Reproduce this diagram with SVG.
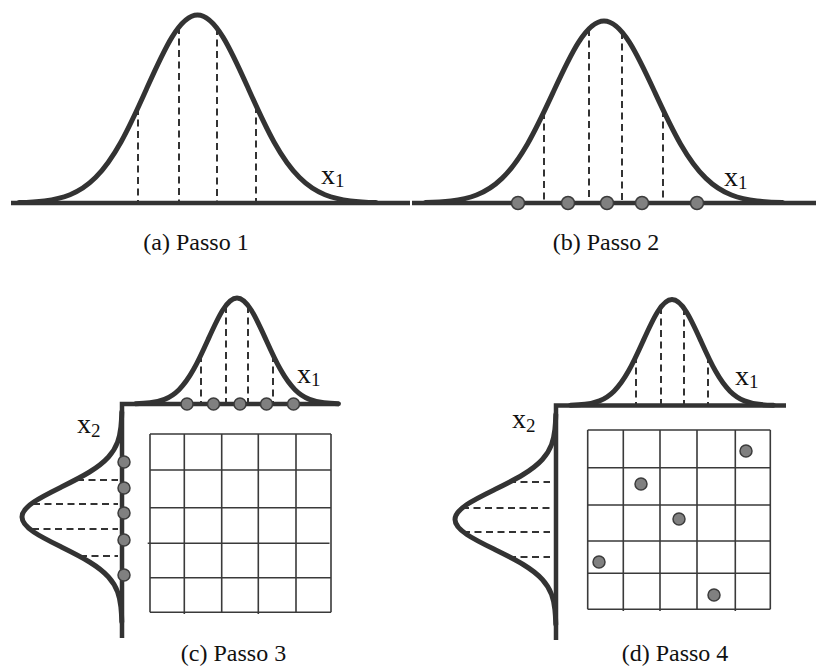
<svg xmlns="http://www.w3.org/2000/svg" width="816" height="668" viewBox="0 0 816 668">
<style>
.curve{fill:none;stroke:#333;stroke-width:5;vector-effect:non-scaling-stroke;stroke-linecap:round;stroke-linejoin:round}
.axis{fill:none;stroke:#333;stroke-width:4.5}
.dash{fill:none;stroke:#333;stroke-width:2;stroke-dasharray:7 4.5}
.grid{fill:none;stroke:#3a3a3a;stroke-width:1.6}
.pt{fill:#808080;stroke:#3c3c3c;stroke-width:1.5}
.cap{font-family:"Liberation Serif","Times New Roman",serif;font-size:24px;fill:#111;text-anchor:middle}
.lbl{font-family:"Liberation Serif","Times New Roman",serif;font-size:28px;fill:#111}
.sub{font-size:19px}
</style>

<g id="panel-a">
<line class="axis" x1="11" y1="203" x2="410" y2="203"/>
<path class="curve" transform="translate(197.5,203) scale(51,-188)" d="M-3.5,0.002187 C-3.3333,0.003463 -3.1667,0.005554 -3,0.011109 C-2.8333,0.016664 -2.6667,0.02563 -2.5,0.043937 C-2.3333,0.062244 -2.1667,0.090223 -2,0.135335 C-1.8333,0.180447 -1.6667,0.243489 -1.5,0.324652 C-1.3333,0.405815 -1.1667,0.505442 -1,0.606531 C-0.8333,0.70762 -0.6667,0.808956 -0.5,0.882497 C-0.3333,0.956038 -0.1667,1 0,1 C0.1667,1 0.3333,0.956038 0.5,0.882497 C0.6667,0.808956 0.8333,0.70762 1,0.606531 C1.1667,0.505442 1.3333,0.405815 1.5,0.324652 C1.6667,0.243489 1.8333,0.180447 2,0.135335 C2.1667,0.090223 2.3333,0.062244 2.5,0.043937 C2.6667,0.02563 2.8333,0.016664 3,0.011109 C3.1667,0.005554 3.3333,0.003463 3.5,0.002187"/>
<line class="dash" x1="138" y1="108" x2="138" y2="203"/>
<line class="dash" x1="179" y1="27" x2="179" y2="203"/>
<line class="dash" x1="217" y1="28" x2="217" y2="203"/>
<line class="dash" x1="256" y1="106" x2="256" y2="203"/>
<text class="lbl" x="321" y="184">x<tspan class="sub" dy="3">1</tspan></text>
<text class="cap" x="196" y="250">(a) Passo 1</text>
</g>

<g id="panel-b">
<line class="axis" x1="412" y1="203" x2="816" y2="203"/>
<path class="curve" transform="translate(604,203) scale(51,-182)" d="M-3.5,0.002187 C-3.3333,0.003463 -3.1667,0.005554 -3,0.011109 C-2.8333,0.016664 -2.6667,0.02563 -2.5,0.043937 C-2.3333,0.062244 -2.1667,0.090223 -2,0.135335 C-1.8333,0.180447 -1.6667,0.243489 -1.5,0.324652 C-1.3333,0.405815 -1.1667,0.505442 -1,0.606531 C-0.8333,0.70762 -0.6667,0.808956 -0.5,0.882497 C-0.3333,0.956038 -0.1667,1 0,1 C0.1667,1 0.3333,0.956038 0.5,0.882497 C0.6667,0.808956 0.8333,0.70762 1,0.606531 C1.1667,0.505442 1.3333,0.405815 1.5,0.324652 C1.6667,0.243489 1.8333,0.180447 2,0.135335 C2.1667,0.090223 2.3333,0.062244 2.5,0.043937 C2.6667,0.02563 2.8333,0.016664 3,0.011109 C3.1667,0.005554 3.3333,0.003463 3.5,0.002187"/>
<line class="dash" x1="544" y1="112" x2="544" y2="203"/>
<line class="dash" x1="589" y1="29" x2="589" y2="203"/>
<line class="dash" x1="622" y1="32" x2="622" y2="203"/>
<line class="dash" x1="663" y1="110" x2="663" y2="203"/>
<circle class="pt" cx="518" cy="203" r="6.5"/>
<circle class="pt" cx="568" cy="203" r="6.5"/>
<circle class="pt" cx="607" cy="203" r="6.5"/>
<circle class="pt" cx="642" cy="203" r="6.5"/>
<circle class="pt" cx="697" cy="203" r="6.5"/>
<text class="lbl" x="724" y="186">x<tspan class="sub" dy="3">1</tspan></text>
<text class="cap" x="606" y="250">(b) Passo 2</text>
</g>

<g id="panel-c">
<path class="grid" d="M150,434 V612.3 M184.3,434 V614 M221.7,434 V612.3 M258.3,434 V614 M296,434 V612.3 M331,434 V612.3 M150,434 H331 M150,470 H331 M150,507.7 H331 M147.7,543.3 H329.5 M150,577.7 H331 M150,612.3 H331"/>
<path class="axis" d="M339,404 H122 V638"/>
<path class="curve" transform="translate(237,404) scale(29,-106)" d="M-3.5,0.002187 C-3.3333,0.003463 -3.1667,0.005554 -3,0.011109 C-2.8333,0.016664 -2.6667,0.02563 -2.5,0.043937 C-2.3333,0.062244 -2.1667,0.090223 -2,0.135335 C-1.8333,0.180447 -1.6667,0.243489 -1.5,0.324652 C-1.3333,0.405815 -1.1667,0.505442 -1,0.606531 C-0.8333,0.70762 -0.6667,0.808956 -0.5,0.882497 C-0.3333,0.956038 -0.1667,1 0,1 C0.1667,1 0.3333,0.956038 0.5,0.882497 C0.6667,0.808956 0.8333,0.70762 1,0.606531 C1.1667,0.505442 1.3333,0.405815 1.5,0.324652 C1.6667,0.243489 1.8333,0.180447 2,0.135335 C2.1667,0.090223 2.3333,0.062244 2.5,0.043937 C2.6667,0.02563 2.8333,0.016664 3,0.011109 C3.1667,0.005554 3.3333,0.003463 3.5,0.002187"/>
<path class="curve" transform="matrix(0,30,-100,0,122,517)" d="M-3.5,0.002187 C-3.3333,0.003463 -3.1667,0.005554 -3,0.011109 C-2.8333,0.016664 -2.6667,0.02563 -2.5,0.043937 C-2.3333,0.062244 -2.1667,0.090223 -2,0.135335 C-1.8333,0.180447 -1.6667,0.243489 -1.5,0.324652 C-1.3333,0.405815 -1.1667,0.505442 -1,0.606531 C-0.8333,0.70762 -0.6667,0.808956 -0.5,0.882497 C-0.3333,0.956038 -0.1667,1 0,1 C0.1667,1 0.3333,0.956038 0.5,0.882497 C0.6667,0.808956 0.8333,0.70762 1,0.606531 C1.1667,0.505442 1.3333,0.405815 1.5,0.324652 C1.6667,0.243489 1.8333,0.180447 2,0.135335 C2.1667,0.090223 2.3333,0.062244 2.5,0.043937 C2.6667,0.02563 2.8333,0.016664 3,0.011109 C3.1667,0.005554 3.3333,0.003463 3.5,0.002187"/>
<line class="dash" x1="201" y1="355" x2="201" y2="404"/>
<line class="dash" x1="226" y1="306" x2="226" y2="404"/>
<line class="dash" x1="248" y1="306" x2="248" y2="404"/>
<line class="dash" x1="273" y1="355" x2="273" y2="404"/>
<line class="dash" x1="77" y1="480" x2="118" y2="480"/>
<line class="dash" x1="33" y1="504" x2="118" y2="504"/>
<line class="dash" x1="32" y1="529" x2="118" y2="529"/>
<line class="dash" x1="80" y1="556" x2="118" y2="556"/>
<circle class="pt" cx="187" cy="404" r="6"/>
<circle class="pt" cx="213.5" cy="404" r="6"/>
<circle class="pt" cx="240" cy="404" r="6"/>
<circle class="pt" cx="266.5" cy="404" r="6"/>
<circle class="pt" cx="293.5" cy="404" r="6"/>
<circle class="pt" cx="124" cy="462" r="6"/>
<circle class="pt" cx="124" cy="488" r="6"/>
<circle class="pt" cx="124" cy="513" r="6"/>
<circle class="pt" cx="124" cy="540" r="6"/>
<circle class="pt" cx="124" cy="575" r="6"/>
<text class="lbl" x="297" y="383">x<tspan class="sub" dy="3">1</tspan></text>
<text class="lbl" x="77" y="433">x<tspan class="sub" dy="4">2</tspan></text>
<text class="cap" x="233.5" y="661">(c) Passo 3</text>
</g>

<g id="panel-d">
<path class="grid" d="M587.7,430 V609.3 M623.3,430 V611 M660,430 V611 M697,430 V609.3 M735.3,430 V611 M770.3,430 V609.3 M587.7,430 H770.3 M587.7,467.7 H770.3 M587.7,505 H770.3 M587.7,541 H770.3 M587.7,573.3 H770.3 M587.7,609.3 H770.3"/>
<path class="axis" d="M786,405.5 H556 V640"/>
<path class="curve" transform="translate(672,405.5) scale(29,-106)" d="M-3.5,0.002187 C-3.3333,0.003463 -3.1667,0.005554 -3,0.011109 C-2.8333,0.016664 -2.6667,0.02563 -2.5,0.043937 C-2.3333,0.062244 -2.1667,0.090223 -2,0.135335 C-1.8333,0.180447 -1.6667,0.243489 -1.5,0.324652 C-1.3333,0.405815 -1.1667,0.505442 -1,0.606531 C-0.8333,0.70762 -0.6667,0.808956 -0.5,0.882497 C-0.3333,0.956038 -0.1667,1 0,1 C0.1667,1 0.3333,0.956038 0.5,0.882497 C0.6667,0.808956 0.8333,0.70762 1,0.606531 C1.1667,0.505442 1.3333,0.405815 1.5,0.324652 C1.6667,0.243489 1.8333,0.180447 2,0.135335 C2.1667,0.090223 2.3333,0.062244 2.5,0.043937 C2.6667,0.02563 2.8333,0.016664 3,0.011109 C3.1667,0.005554 3.3333,0.003463 3.5,0.002187"/>
<path class="curve" transform="matrix(0,30,-101,0,556,519.5)" d="M-3.5,0.002187 C-3.3333,0.003463 -3.1667,0.005554 -3,0.011109 C-2.8333,0.016664 -2.6667,0.02563 -2.5,0.043937 C-2.3333,0.062244 -2.1667,0.090223 -2,0.135335 C-1.8333,0.180447 -1.6667,0.243489 -1.5,0.324652 C-1.3333,0.405815 -1.1667,0.505442 -1,0.606531 C-0.8333,0.70762 -0.6667,0.808956 -0.5,0.882497 C-0.3333,0.956038 -0.1667,1 0,1 C0.1667,1 0.3333,0.956038 0.5,0.882497 C0.6667,0.808956 0.8333,0.70762 1,0.606531 C1.1667,0.505442 1.3333,0.405815 1.5,0.324652 C1.6667,0.243489 1.8333,0.180447 2,0.135335 C2.1667,0.090223 2.3333,0.062244 2.5,0.043937 C2.6667,0.02563 2.8333,0.016664 3,0.011109 C3.1667,0.005554 3.3333,0.003463 3.5,0.002187"/>
<line class="dash" x1="636" y1="356" x2="636" y2="405"/>
<line class="dash" x1="661" y1="307" x2="661" y2="405"/>
<line class="dash" x1="684" y1="308" x2="684" y2="405"/>
<line class="dash" x1="708" y1="356" x2="708" y2="405"/>
<line class="dash" x1="509" y1="482" x2="550" y2="482"/>
<line class="dash" x1="462" y1="508" x2="550" y2="508"/>
<line class="dash" x1="463" y1="532" x2="550" y2="532"/>
<line class="dash" x1="509" y1="557" x2="550" y2="557"/>
<circle class="pt" cx="746" cy="451" r="6"/>
<circle class="pt" cx="641" cy="484" r="6"/>
<circle class="pt" cx="679" cy="519" r="6"/>
<circle class="pt" cx="599" cy="562" r="6"/>
<circle class="pt" cx="714" cy="595" r="6"/>
<text class="lbl" x="735" y="385">x<tspan class="sub" dy="3">1</tspan></text>
<text class="lbl" x="512" y="428">x<tspan class="sub" dy="4">2</tspan></text>
<text class="cap" x="675" y="661">(d) Passo 4</text>
</g>
</svg>
